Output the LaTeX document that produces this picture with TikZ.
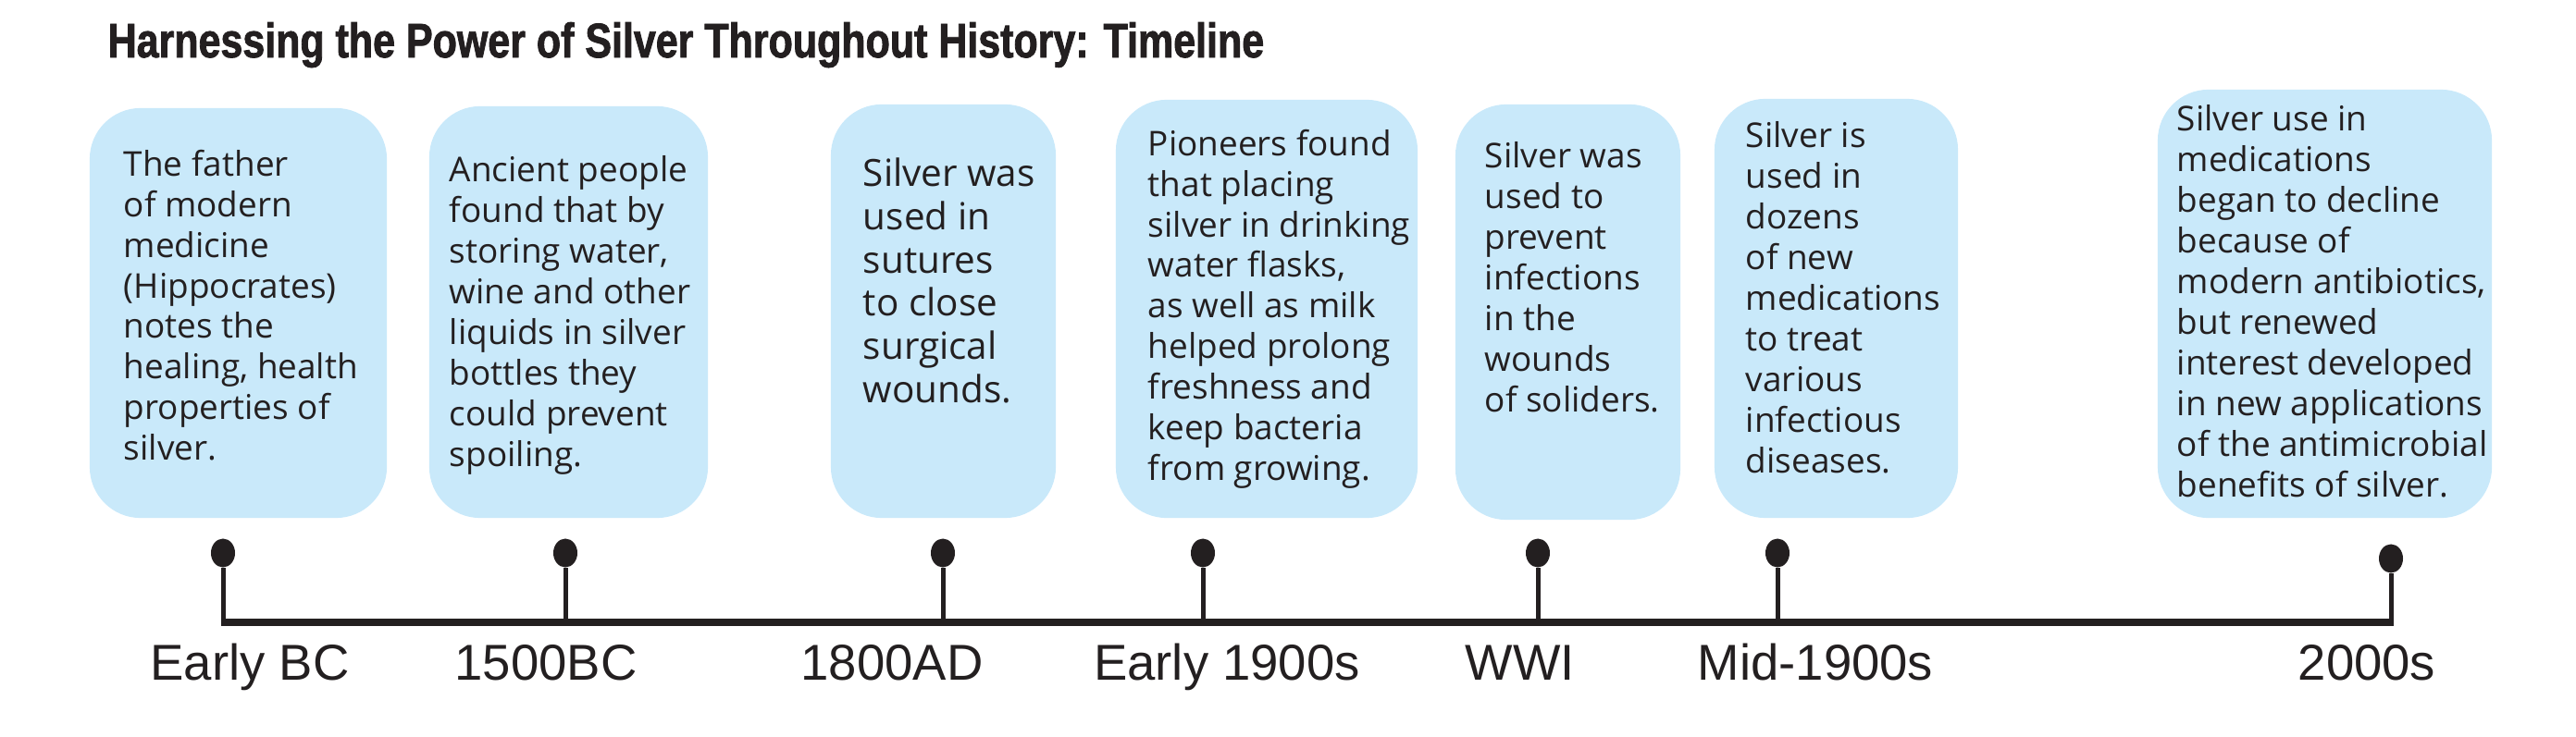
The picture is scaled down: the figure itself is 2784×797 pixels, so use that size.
\documentclass[tikz,border=0pt]{standalone}
\usepackage{fontspec}
\setmainfont{Open Sans}
\newfontfamily\headfont[FakeStretch=0.82, BoldFeatures={FakeBold=1.6}]{Liberation Sans}
\newfontfamily\erafont{Liberation Sans}
\usetikzlibrary{positioning, calc, shapes.geometric}
\definecolor{agInk}{RGB}{35,31,32}
\definecolor{agBlue}{RGB}{201,233,250}

\begin{document}
\begin{tikzpicture}[
    x=0.01cm, y=-0.01cm,
    card/.style={fill=agBlue, rounded corners=0.55cm, inner sep=0pt},
    blurb/.style={anchor=north west, align=left, inner sep=0pt, text=agInk,
                  font=\fontsize{10.5}{12.5}\selectfont},
    pin/.style={ellipse, fill=agInk, inner sep=0pt,
                minimum width=0.26cm, minimum height=0.31cm},
    stem/.style={draw=agInk, line width=0.05cm},
    axis/.style={draw=agInk, line width=0.08cm,
                 shorten <=-0.025cm, shorten >=-0.025cm},
    era/.style={anchor=base, inner sep=0pt, text=agInk,
                font=\erafont\fontsize{15.5}{18}\selectfont}
]
\useasboundingbox (0,0) rectangle (2784,797);

% title
\node[anchor=base west, inner sep=0pt, text=agInk,
      font=\headfont\bfseries\fontsize{14.9}{17}\selectfont] (title) at (116,62)
  {Harnessing the Power of Silver Throughout History: Timeline};

% cards
\node[card, minimum width=3.21cm, minimum height=4.43cm] (b1) at (257.5,338.5) {};
\node[blurb] (x1) at ($(b1.north west)+(37,45)$)
  {The father\\of modern\\medicine\\(Hippocrates)\\notes the\\healing, health\\properties of\\silver.};

\node[card, minimum width=3.01cm, minimum height=4.45cm] (b2) at (614.5,337.5) {};
\node[blurb] (x2) at ($(b2.north west)+(22,54)$)
  {Ancient people\\found that by\\storing water,\\wine and other\\liquids in silver\\bottles they\\could prevent\\spoiling.};

\node[card, minimum width=2.43cm, minimum height=4.47cm] (b3) at (1019.5,336.5) {};
\node[blurb, font=\fontsize{11.5}{13.3}\selectfont] (x3) at ($(b3.north west)+(35,58)$)
  {Silver was\\used in\\sutures\\to close\\surgical\\wounds.};

\node[card, minimum width=3.26cm, minimum height=4.52cm] (b4) at (1369,334) {};
\node[blurb] (x4) at ($(b4.north west)+(35,32)$)
  {Pioneers found\\that placing\\silver in drinking\\water flasks,\\as well as milk\\helped prolong\\freshness and\\keep bacteria\\from growing.};

\node[card, minimum width=2.43cm, minimum height=4.49cm] (b5) at (1694.5,337.5) {};
\node[blurb] (x5) at ($(b5.north west)+(32,41)$)
  {Silver was\\used to\\prevent\\infections\\in the\\wounds\\of soliders.};

\node[card, minimum width=2.63cm, minimum height=4.53cm] (b6) at (1984.5,333.5) {};
\node[blurb] (x6) at ($(b6.north west)+(34,25)$)
  {Silver is\\used in\\dozens\\of new\\medications\\to treat\\various\\infectious\\diseases.};

\node[card, minimum width=3.61cm, minimum height=4.63cm] (b7) at (2512.5,328.5) {};
\node[blurb] (x7) at ($(b7.north west)+(21,17)$)
  {Silver use in\\medications\\began to decline\\because of\\modern antibiotics,\\but renewed\\interest developed\\in new applications\\of the antimicrobial\\benefits of silver.};

% pins and ticks on the time axis
\node[pin] (p1) at (241,598) {};
\node[pin] (p2) at (611,598) {};
\node[pin] (p3) at (1019,598) {};
\node[pin] (p4) at (1300,598) {};
\node[pin] (p5) at (1662,598) {};
\node[pin] (p6) at (1921,598) {};
\node[pin] (p7) at (2584,604) {};
\coordinate (t1) at (241,673);
\coordinate (t2) at (611,673);
\coordinate (t3) at (1019,673);
\coordinate (t4) at (1300,673);
\coordinate (t5) at (1662,673);
\coordinate (t6) at (1921,673);
\coordinate (t7) at (2584,673);

\draw[stem] (p1) -- (t1);
\draw[stem] (p2) -- (t2);
\draw[stem] (p3) -- (t3);
\draw[stem] (p4) -- (t4);
\draw[stem] (p5) -- (t5);
\draw[stem] (p6) -- (t6);
\draw[stem] (p7) -- (t7);
\draw[axis] (t1) -- (t7);

% era labels
\node[era] (e1) at (270,735) {Early BC};
\node[era] (e2) at (590,735) {1500BC};
\node[era] (e3) at (964,735) {1800AD};
\node[era] (e4) at (1326,735) {Early 1900s};
\node[era] (e5) at (1643,735) {WWI};
\node[era] (e6) at (1962,735) {Mid-1900s};
\node[era] (e7) at (2558,735) {2000s};

\end{tikzpicture}
\end{document}
